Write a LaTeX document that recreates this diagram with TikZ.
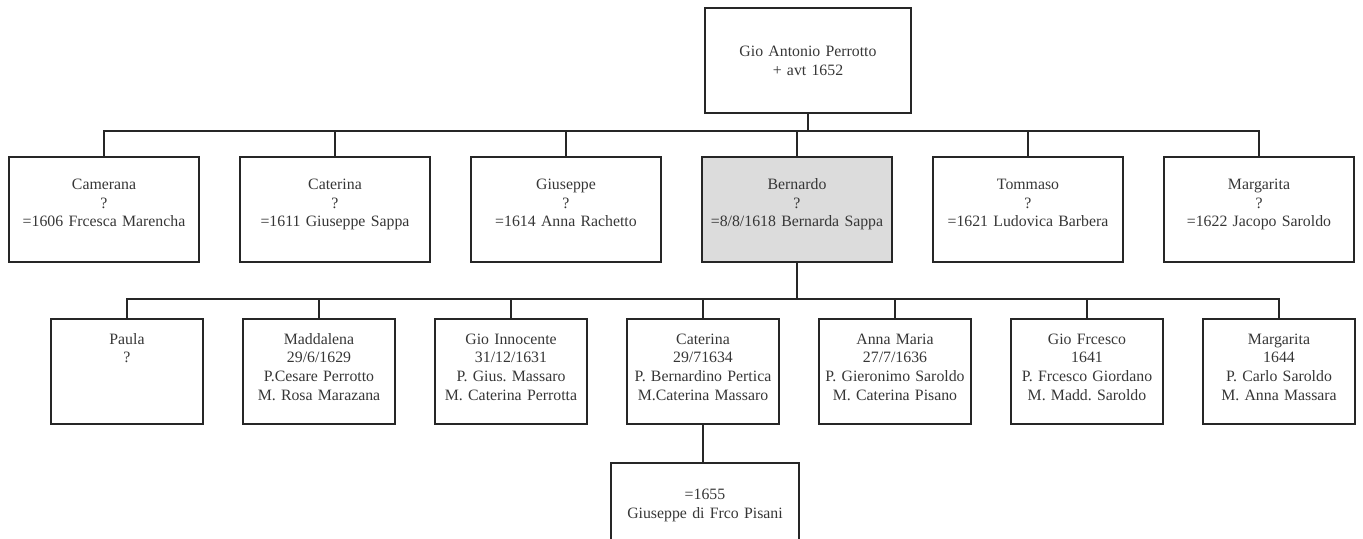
\documentclass[tikz,border=0pt]{standalone}
\usepackage{fontspec}
\setmainfont{Liberation Serif}
\usepackage{tikz}
\usetikzlibrary{calc,positioning}

\definecolor{linecol}{HTML}{262626}
\definecolor{txtcol}{HTML}{363636}
\definecolor{selcol}{HTML}{DCDCDC}

\tikzset{
    person/.style={draw=linecol, line width=1.5pt, inner sep=0pt, align=center,
        text=txtcol, font=\fontsize{9}{10.8}\selectfont\frenchspacing},
    head/.style={person, text width=4.12cm, text height=27.9pt, text depth=31.9pt},
    child/.style={person, text width=3.8cm, text height=18.2pt, text depth=41.5pt},
    grandchild/.style={person, text width=3.04cm, text height=14.2pt, text depth=45.5pt},
    spouse/.style={person, text width=3.76cm, text height=20.5pt, text depth=36.4pt},
    link/.style={draw=linecol, line width=1.5pt}
}

\begin{document}
\begin{tikzpicture}[x=0.02cm, y=-0.02cm]
        \useasboundingbox (0, 0) rectangle (1363, 538);

        \node[head] (gio) at (808, 60.5) {Gio Antonio Perrotto\\+ avt 1652};

        \node[child] (camerana) at (104, 209.5) {Camerana\\?\\=1606 Frcesca Marencha};
        \node[child] (caterina) at (335, 209.5) {Caterina\\?\\=1611 Giuseppe Sappa};
        \node[child] (giuseppe) at (566, 209.5) {Giuseppe\\?\\=1614 Anna Rachetto};
        \node[child, fill=selcol] (bernardo) at (797, 209.5) {Bernardo\\?\\=8/8/1618 Bernarda Sappa};
        \node[child] (tommaso) at (1028, 209.5) {Tommaso\\?\\=1621 Ludovica Barbera};
        \node[child] (margarita) at (1259, 209.5) {Margarita\\?\\=1622 Jacopo Saroldo};

        \node[grandchild] (paula) at (127, 371.5) {Paula\\?};
        \node[grandchild] (maddalena) at (319, 371.5) {Maddalena\\29/6/1629\\P.Cesare Perrotto\\M. Rosa Marazana};
        \node[grandchild] (innocente) at (511, 371.5) {Gio Innocente\\31/12/1631\\P. Gius. Massaro\\M. Caterina Perrotta};
        \node[grandchild] (caterinab) at (703, 371.5) {Caterina\\29/71634\\P. Bernardino Pertica\\M.Caterina Massaro};
        \node[grandchild] (annamaria) at (895, 371.5) {Anna Maria\\27/7/1636\\P. Gieronimo Saroldo\\M. Caterina Pisano};
        \node[grandchild] (frcesco) at (1087, 371.5) {Gio Frcesco\\1641\\P. Frcesco Giordano\\M. Madd. Saroldo};
        \node[grandchild] (margaritab) at (1279, 371.5) {Margarita\\1644\\P. Carlo Saroldo\\M. Anna Massara};

        \node[spouse] (pisani) at (705, 513) {=1655\\Giuseppe di Frco Pisani};

        \coordinate (bus1) at (808, 131);
        \coordinate (bus2) at (797, 299);

        \draw[link] (gio) -- (bus1);
        \foreach \c in {camerana, caterina, giuseppe, bernardo, tommaso, margarita}
            \draw[link] (bus1) -| (\c.north);

        \draw[link] (bernardo) -- (bus2);
        \foreach \c in {paula, maddalena, innocente, caterinab, annamaria, frcesco, margaritab}
            \draw[link] (bus2) -| (\c.north);

        \draw[link] (caterinab.south) -- (caterinab.south |- pisani.north);
    \end{tikzpicture}
\end{document}
